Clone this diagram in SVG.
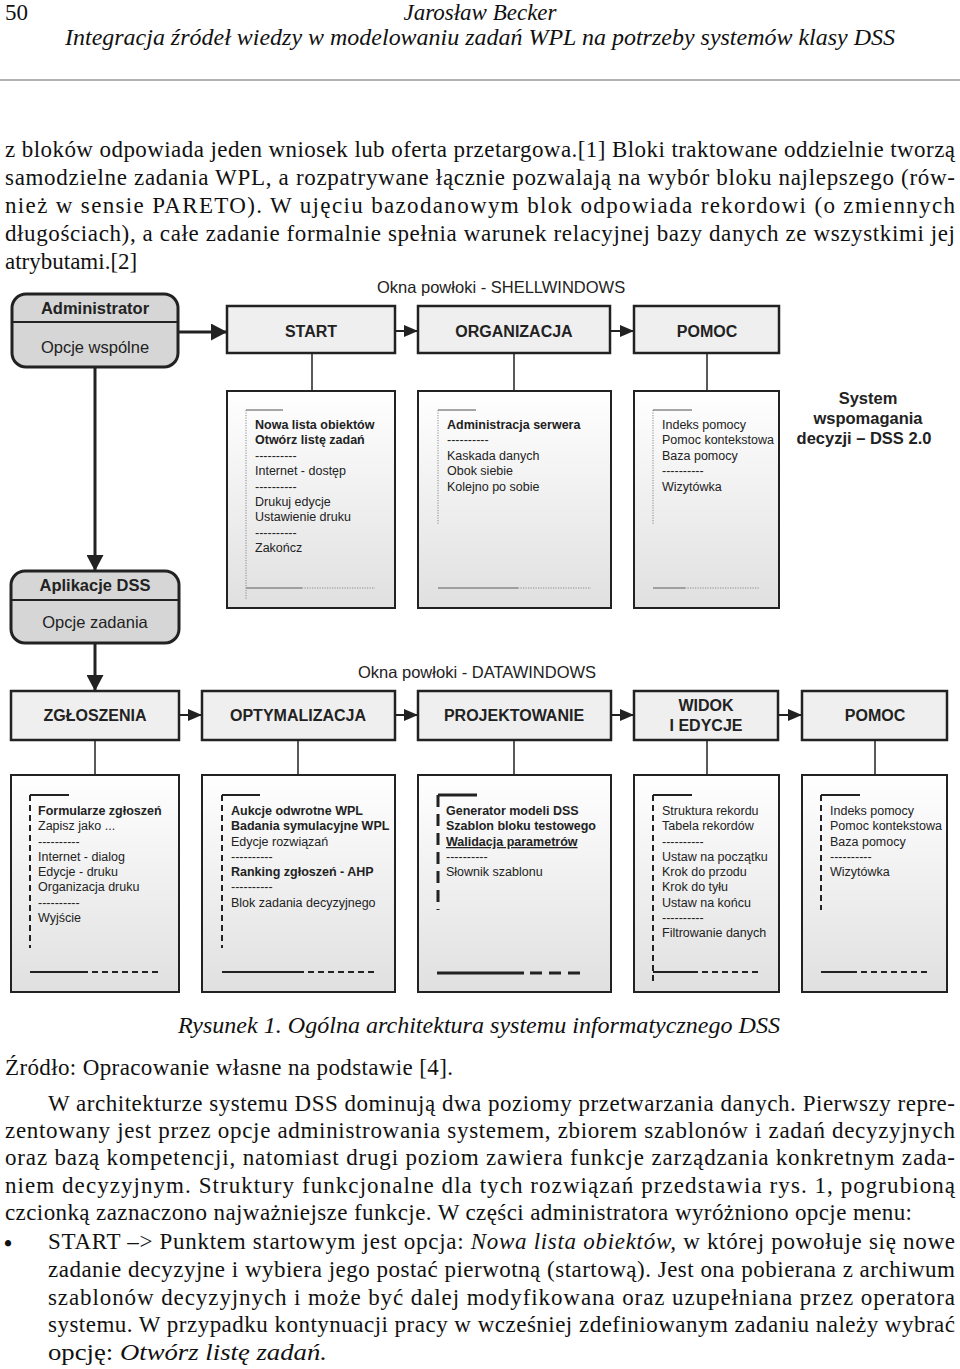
<svg xmlns="http://www.w3.org/2000/svg" width="960" height="1369" viewBox="0 0 960 1369">
<defs>
<linearGradient id="cg" x1="0" y1="0" x2="0" y2="1">
<stop offset="0" stop-color="#ffffff"/>
<stop offset="1" stop-color="#e0e0e0"/>
</linearGradient>
<marker id="ab" viewBox="0 0 16 17" refX="16" refY="8.5" markerWidth="16" markerHeight="17" markerUnits="userSpaceOnUse" orient="auto"><path d="M0,0 L16,8.5 L0,17 z" fill="#222"/></marker>
<marker id="as" viewBox="0 0 14 12" refX="14" refY="6" markerWidth="14" markerHeight="12" markerUnits="userSpaceOnUse" orient="auto"><path d="M0,0 L14,6 L0,12 z" fill="#222"/></marker>
<style>
.pg{font-family:"Liberation Serif","Times New Roman",serif;font-size:23px;fill:#111}
.it{font-style:italic}
.sf{font-family:"Liberation Sans",Arial,sans-serif;fill:#222}
.rb{fill:#d6d6d6;stroke:#222;stroke-width:3}
.hb{fill:#efefef;stroke:#222;stroke-width:2.5}
.cb{fill:url(#cg);stroke:#222;stroke-width:2}
.ht{font-size:16px;font-weight:bold;text-anchor:middle}
.rt{font-size:16.5px;text-anchor:middle}
.ct{font-size:12.5px}
.b{font-weight:bold}
.dv{stroke:#222;stroke-width:2}
.gs{stroke:#888;stroke-width:1.5;fill:none}
.gd{stroke:#888;stroke-width:1;stroke-dasharray:1.2 1.3;fill:none}
.ks{stroke:#222;stroke-width:2;fill:none}
.kd{stroke:#222;stroke-width:2;stroke-dasharray:6 4;fill:none}
.kt{stroke:#222;stroke-width:3;fill:none}
.ktd{stroke:#222;stroke-width:3;stroke-dasharray:12 7;fill:none}
.cn{stroke:#222;stroke-width:2;fill:none}
.cnt{stroke:#222;stroke-width:3;fill:none}
.cnl{stroke:#222;stroke-width:1.5;fill:none}
</style>
</defs>
<rect width="960" height="1369" fill="#fff"/>

<g id="page-header">
<text class="pg" x="5" y="20" font-size="22">50</text>
<text class="pg it" x="480" y="20" text-anchor="middle" font-size="22">Jarosław Becker</text>
<text class="pg it" x="65" y="45" textLength="830" lengthAdjust="spacingAndGlyphs">Integracja źródeł wiedzy w modelowaniu zadań WPL na potrzeby systemów klasy DSS</text>
<line x1="0" y1="80" x2="960" y2="80" stroke="#666" stroke-width="1.2"/>
</g>

<g id="text-top">
<text class="pg" x="5" y="157" textLength="950" lengthAdjust="spacing">z bloków odpowiada jeden wniosek lub oferta przetargowa.[1] Bloki traktowane oddzielnie tworzą</text>
<text class="pg" x="5" y="185" textLength="950" lengthAdjust="spacing">samodzielne zadania WPL, a rozpatrywane łącznie pozwalają na wybór bloku najlepszego (rów-</text>
<text class="pg" x="5" y="213" textLength="950" lengthAdjust="spacing">nież w sensie PARETO). W ujęciu bazodanowym blok odpowiada rekordowi (o zmiennych</text>
<text class="pg" x="5" y="241" textLength="950" lengthAdjust="spacing">długościach), a całe zadanie formalnie spełnia warunek relacyjnej bazy danych ze wszystkimi jej</text>
<text class="pg" x="5" y="269">atrybutami.[2]</text>
</g>

<g id="labels" class="sf">
<text x="377" y="293" font-size="16.5">Okna powłoki - SHELLWINDOWS</text>
<text x="358" y="678" font-size="16.5">Okna powłoki - DATAWINDOWS</text>
<text font-size="16.5" font-weight="bold" text-anchor="middle"><tspan x="868" y="404">System</tspan><tspan x="868" y="424">wspomagania</tspan><tspan x="864" y="444">decyzji – DSS 2.0</tspan></text>
</g>

<g id="connectors">
<line class="cnt" x1="178" y1="332" x2="227" y2="332" marker-end="url(#ab)"/>
<line class="cn" x1="395" y1="331" x2="418" y2="331" marker-end="url(#as)"/>
<line class="cn" x1="610" y1="331" x2="634" y2="331" marker-end="url(#as)"/>
<line class="cnt" x1="95" y1="367" x2="95" y2="571" marker-end="url(#ab)"/>
<line class="cnl" x1="312" y1="353" x2="312" y2="391"/>
<line class="cnl" x1="514" y1="353" x2="514" y2="391"/>
<line class="cnl" x1="707" y1="353" x2="707" y2="391"/>
<line class="cnt" x1="95" y1="643" x2="95" y2="691" marker-end="url(#ab)"/>
<line class="cn" x1="179" y1="715" x2="202" y2="715" marker-end="url(#as)"/>
<line class="cn" x1="395" y1="715" x2="418" y2="715" marker-end="url(#as)"/>
<line class="cn" x1="611" y1="715" x2="634" y2="715" marker-end="url(#as)"/>
<line class="cn" x1="778" y1="715" x2="802" y2="715" marker-end="url(#as)"/>
<line class="cnl" x1="95" y1="740" x2="95" y2="775"/>
<line class="cnl" x1="298" y1="740" x2="298" y2="775"/>
<line class="cnl" x1="514" y1="740" x2="514" y2="775"/>
<line class="cnl" x1="707" y1="740" x2="707" y2="775"/>
<line class="cnl" x1="875" y1="740" x2="875" y2="775"/>
</g>

<g id="administrator" class="sf">
<rect class="rb" x="12" y="294" width="166" height="73" rx="14"/>
<line class="dv" x1="12" y1="322" x2="178" y2="322"/>
<text class="rt b" x="95" y="314">Administrator</text>
<text class="rt" x="95" y="353">Opcje wspólne</text>
</g>

<g id="start" class="sf">
<rect class="hb" x="227" y="306" width="168" height="47"/>
<text class="ht" x="311" y="337">START</text>
</g>
<g id="organizacja" class="sf">
<rect class="hb" x="418" y="306" width="192" height="47"/>
<text class="ht" x="514" y="337">ORGANIZACJA</text>
</g>
<g id="pomoc-shell" class="sf">
<rect class="hb" x="634" y="306" width="145" height="47"/>
<text class="ht" x="707" y="337">POMOC</text>
</g>

<g id="start-menu" class="sf ct">
<rect class="cb" x="227" y="391" width="168" height="217"/>
<path class="gs" d="M246,410 H283"/>
<path class="gd" d="M246,410 V600"/>
<path class="gs" d="M246,588 H302"/>
<path class="gd" d="M302,588 H375"/>
<text x="255" y="429" class="b">Nowa lista obiektów</text>
<text x="255" y="444" class="b">Otwórz listę zadań</text>
<text x="255" y="460">----------</text>
<text x="255" y="475">Internet - dostęp</text>
<text x="255" y="491">----------</text>
<text x="255" y="506">Drukuj edycje</text>
<text x="255" y="521">Ustawienie druku</text>
<text x="255" y="537">----------</text>
<text x="255" y="552">Zakończ</text>
</g>

<g id="organizacja-menu" class="sf ct">
<rect class="cb" x="418" y="391" width="193" height="217"/>
<path class="gs" d="M438,410 H476"/>
<path class="gd" d="M438,410 V525"/>
<path class="gs" d="M438,588 H518"/>
<path class="gd" d="M518,588 H591"/>
<text x="447" y="429" class="b">Administracja serwera</text>
<text x="447" y="444">----------</text>
<text x="447" y="460">Kaskada danych</text>
<text x="447" y="475">Obok siebie</text>
<text x="447" y="491">Kolejno po sobie</text>
</g>

<g id="pomoc-shell-menu" class="sf ct">
<rect class="cb" x="634" y="391" width="145" height="217"/>
<path class="gs" d="M653,410 H692"/>
<path class="gd" d="M653,410 V525"/>
<path class="gs" d="M653,588 H685"/>
<path class="gd" d="M685,588 H760"/>
<text x="662" y="429">Indeks pomocy</text>
<text x="662" y="444">Pomoc kontekstowa</text>
<text x="662" y="460">Baza pomocy</text>
<text x="662" y="475">----------</text>
<text x="662" y="491">Wizytówka</text>
</g>

<g id="aplikacje" class="sf">
<rect class="rb" x="11" y="571" width="168" height="72" rx="14"/>
<line class="dv" x1="11" y1="600" x2="179" y2="600"/>
<text class="rt b" x="95" y="591">Aplikacje DSS</text>
<text class="rt" x="95" y="628">Opcje zadania</text>
</g>

<g id="zgloszenia" class="sf">
<rect class="hb" x="11" y="691" width="168" height="49"/>
<text class="ht" x="95" y="721">ZGŁOSZENIA</text>
</g>
<g id="optymalizacja" class="sf">
<rect class="hb" x="202" y="691" width="193" height="49"/>
<text class="ht" x="298" y="721">OPTYMALIZACJA</text>
</g>
<g id="projektowanie" class="sf">
<rect class="hb" x="418" y="691" width="193" height="49"/>
<text class="ht" x="514" y="721">PROJEKTOWANIE</text>
</g>
<g id="widok" class="sf">
<rect class="hb" x="634" y="691" width="144" height="49"/>
<text class="ht" x="706" y="711">WIDOK</text>
<text class="ht" x="706" y="731">I EDYCJE</text>
</g>
<g id="pomoc-data" class="sf">
<rect class="hb" x="802" y="691" width="145" height="49"/>
<text class="ht" x="875" y="721">POMOC</text>
</g>

<g id="zgloszenia-menu" class="sf ct">
<rect class="cb" x="11" y="775" width="168" height="217"/>
<path class="ks" d="M30,795 H69"/>
<path class="kd" d="M30,795 V948"/>
<path class="ks" d="M30,972 H88"/>
<path class="kd" d="M92,972 H162"/>
<text x="38" y="815" class="b">Formularze zgłoszeń</text>
<text x="38" y="830">Zapisz jako ...</text>
<text x="38" y="846">----------</text>
<text x="38" y="861">Internet - dialog</text>
<text x="38" y="876">Edycje - druku</text>
<text x="38" y="891">Organizacja druku</text>
<text x="38" y="907">----------</text>
<text x="38" y="922">Wyjście</text>
</g>

<g id="optymalizacja-menu" class="sf ct">
<rect class="cb" x="202" y="775" width="193" height="217"/>
<path class="ks" d="M222,795 H260"/>
<path class="kd" d="M222,795 V948"/>
<path class="ks" d="M222,972 H304"/>
<path class="kd" d="M308,972 H377"/>
<text x="231" y="815" class="b">Aukcje odwrotne WPL</text>
<text x="231" y="830" class="b">Badania symulacyjne WPL</text>
<text x="231" y="846">Edycje rozwiązań</text>
<text x="231" y="861">----------</text>
<text x="231" y="876" class="b">Ranking zgłoszeń - AHP</text>
<text x="231" y="891">----------</text>
<text x="231" y="907">Blok zadania decyzyjnego</text>
</g>

<g id="projektowanie-menu" class="sf ct">
<rect class="cb" x="418" y="775" width="193" height="217" stroke-width="3"/>
<path class="kt" d="M438,795 H477"/>
<path class="ktd" d="M438,795 V910"/>
<path class="kt" d="M437,973 H524"/>
<path class="ktd" d="M530,973 H585"/>
<text x="446" y="815" class="b">Generator modeli DSS</text>
<text x="446" y="830" class="b">Szablon bloku testowego</text>
<text x="446" y="846" class="b" text-decoration="underline">Walidacja parametrów</text>
<text x="446" y="861">----------</text>
<text x="446" y="876">Słownik szablonu</text>
</g>

<g id="widok-menu" class="sf ct">
<rect class="cb" x="634" y="775" width="145" height="217"/>
<path class="ks" d="M653,795 H692"/>
<path class="kd" d="M653,795 V985"/>
<path class="ks" d="M653,972 H698"/>
<path class="kd" d="M702,972 H760"/>
<text x="662" y="815">Struktura rekordu</text>
<text x="662" y="830">Tabela rekordów</text>
<text x="662" y="846">----------</text>
<text x="662" y="861">Ustaw na początku</text>
<text x="662" y="876">Krok do przodu</text>
<text x="662" y="891">Krok do tyłu</text>
<text x="662" y="907">Ustaw na końcu</text>
<text x="662" y="922">----------</text>
<text x="662" y="937">Filtrowanie danych</text>
</g>

<g id="pomoc-data-menu" class="sf ct">
<rect class="cb" x="802" y="775" width="145" height="217"/>
<path class="ks" d="M821,795 H860"/>
<path class="kd" d="M821,795 V910"/>
<path class="ks" d="M821,972 H857"/>
<path class="kd" d="M861,972 H928"/>
<text x="830" y="815">Indeks pomocy</text>
<text x="830" y="830">Pomoc kontekstowa</text>
<text x="830" y="846">Baza pomocy</text>
<text x="830" y="861">----------</text>
<text x="830" y="876">Wizytówka</text>
</g>

<g id="text-bottom">
<text class="pg it" x="178" y="1033" textLength="602" lengthAdjust="spacingAndGlyphs">Rysunek 1. Ogólna architektura systemu informatycznego DSS</text>
<text class="pg" x="5" y="1075" textLength="448" lengthAdjust="spacing">Źródło: Opracowanie własne na podstawie [4].</text>
<text class="pg" x="48" y="1111" textLength="907" lengthAdjust="spacing">W architekturze systemu DSS dominują dwa poziomy przetwarzania danych. Pierwszy repre-</text>
<text class="pg" x="5" y="1138" textLength="950" lengthAdjust="spacing">zentowany jest przez opcje administrowania systemem, zbiorem szablonów i zadań decyzyjnych</text>
<text class="pg" x="5" y="1165" textLength="950" lengthAdjust="spacing">oraz bazą kompetencji, natomiast drugi poziom zawiera funkcje zarządzania konkretnym zada-</text>
<text class="pg" x="5" y="1193" textLength="950" lengthAdjust="spacing">niem decyzyjnym. Struktury funkcjonalne dla tych rozwiązań przedstawia rys. 1, pogrubioną</text>
<text class="pg" x="5" y="1220" textLength="907" lengthAdjust="spacing">czcionką zaznaczono najważniejsze funkcje. W części administratora wyróżniono opcje menu:</text>
<text class="pg" x="4" y="1251" font-size="30" font-weight="bold">•</text>
<text class="pg" x="48" y="1249" textLength="907" lengthAdjust="spacing">START –&gt; Punktem startowym jest opcja: <tspan class="it">Nowa lista obiektów,</tspan> w której powołuje się nowe</text>
<text class="pg" x="48" y="1277" textLength="907" lengthAdjust="spacing">zadanie decyzyjne i wybiera jego postać pierwotną (startową). Jest ona pobierana z archiwum</text>
<text class="pg" x="48" y="1305" textLength="907" lengthAdjust="spacing">szablonów decyzyjnych i może być dalej modyfikowana oraz uzupełniana przez operatora</text>
<text class="pg" x="48" y="1332" textLength="907" lengthAdjust="spacing">systemu. W przypadku kontynuacji pracy w wcześniej zdefiniowanym zadaniu należy wybrać</text>
<text class="pg" x="48" y="1360" textLength="279" lengthAdjust="spacingAndGlyphs">opcję: <tspan class="it">Otwórz listę zadań.</tspan></text>
</g>
</svg>
